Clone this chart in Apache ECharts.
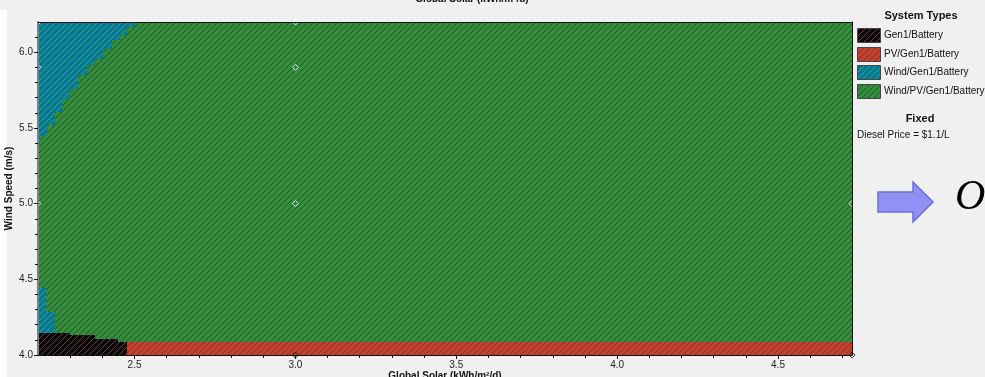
<!DOCTYPE html>
<html>
<head>
<meta charset="utf-8">
<script src="https://cdn.jsdelivr.net/npm/echarts@6/dist/echarts.min.js"></script>
<style>
html,body{margin:0;padding:0;background:#f0f0f0;}
#main{width:985px;height:377px;}
</style>
</head>
<body>
<div id="main"></div>
<script>
// axis ranges and ticks
var solarMin = 2.2, solarMax = 4.73;
var windMin = 4.0, windMax = 6.2;
var xTickValues = [2.5, 3.0, 3.5, 4.0, 4.5];
var xMinorValues = [2.3, 2.4, 2.6, 2.7, 2.8, 2.9, 3.1, 3.2, 3.3, 3.4, 3.6, 3.7, 3.8, 3.9, 4.1, 4.2, 4.3, 4.4, 4.6, 4.7];
var yTickValues = [4.0, 4.5, 5.0, 5.5, 6.0];
var yMinorValues = [4.1, 4.2, 4.3, 4.4, 4.6, 4.7, 4.8, 4.9, 5.1, 5.2, 5.3, 5.4, 5.6, 5.7, 5.8, 5.9, 6.1];

var typeNames = ["Gen1/Battery", "PV/Gen1/Battery", "Wind/Gen1/Battery", "Wind/PV/Gen1/Battery"];

// Wind/Gen1/Battery, upper left steps (lower wind of each step, solar reached)
var blueTopWindLow = [6.166, 6.113, 6.08, 6.02, 5.954, 5.914, 5.848, 5.755, 5.689, 5.603, 5.517, 5.45, 5.39];
var blueTopSolarMax = [2.50, 2.476, 2.455, 2.43, 2.402, 2.377, 2.352, 2.324, 2.299, 2.275, 2.253, 2.228, 2.206];
// Wind/Gen1/Battery, lower left steps
var blueLowWindLow = [4.285, 4.146];
var blueLowWindHigh = [4.44, 4.285];
var blueLowSolarMax = [2.225, 2.253];
// Gen1/Battery steps at the bottom
var blackSolarFrom = [2.2, 2.299, 2.377, 2.448];
var blackSolarTo = [2.299, 2.377, 2.448, 2.476];
var blackWindMax = [4.146, 4.132, 4.106, 4.086];
// PV/Gen1/Battery band
var redSolarFrom = 2.476;
var redWindMax = 4.086;

// sensitivity points
var pointSolar = [2.2, 2.2, 2.2, 3.0, 3.0, 3.0, 4.73, 3.0, 4.73];
var pointWind = [6.2, 5.9, 5.0, 6.2, 5.9, 5.0, 5.0, 4.0, 4.0];

function $each(arr, fn) {
    for (var i = 0; i < arr.length; i++) fn(i, arr[i]);
}

//斜线填充
function makePattern(bg, line) {
    var c = document.createElement("canvas");
    c.width = 6; c.height = 6;
    var ctx = c.getContext("2d");
    ctx.fillStyle = bg;
    ctx.fillRect(0, 0, 6, 6);
    ctx.strokeStyle = line;
    ctx.lineWidth = 1;
    ctx.beginPath();
    ctx.moveTo(0, 6); ctx.lineTo(6, 0);
    ctx.moveTo(-1, 1); ctx.lineTo(1, -1);
    ctx.moveTo(5, 7); ctx.lineTo(7, 5);
    ctx.stroke();
    return {image: c, repeat: "repeat"};
}
var patterns = [
    makePattern("#070707", "#6e3d3d"),
    makePattern("#c2412f", "#8e2d22"),
    makePattern("#04769f", "#35b04a"),
    makePattern("#348c3c", "#1c5a24")
];

// rectangles: [solarFrom, solarTo, windFrom, windTo, type]
var rects = [];
rects.push([solarMin, solarMax, windMin, windMax, 3]);
var rowTop = windMax;
$each(blueTopWindLow, function (i, w) {
    rects.push([solarMin, blueTopSolarMax[i], w, rowTop, 2]);
    rowTop = w;
});
$each(blueLowWindLow, function (i, w) {
    rects.push([solarMin, blueLowSolarMax[i], w, blueLowWindHigh[i], 2]);
});
$each(blackSolarFrom, function (i, s) {
    rects.push([s, blackSolarTo[i], windMin, blackWindMax[i], 0]);
});
rects.push([redSolarFrom, solarMax, windMin, redWindMax, 1]);

var points = [];
$each(pointSolar, function (i, s) {
    points.push({value: [s, pointWind[i]], itemStyle: {borderColor: pointWind[i] === windMin ? "#111" : "#fff"}});
});

var font = "Liberation Sans";
var myChart = echarts.init(document.getElementById("main"));

// legend graphics
var graphics = [
    {type: "rect", shape: {x: 0, y: 10, width: 7, height: 367}, style: {fill: "#fff"}, z: -1},
    {type: "text", x: 472, y: -1, style: {text: "Global Solar (kWh/m²/d)", font: "bold 10px " + font, fill: "#111", align: "center", verticalAlign: "middle"}},
    {type: "text", x: 921, y: 16, style: {text: "System Types", font: "bold 11px " + font, fill: "#111", align: "center", verticalAlign: "middle"}},
    {type: "text", x: 920, y: 119, style: {text: "Fixed", font: "bold 11px " + font, fill: "#111", align: "center", verticalAlign: "middle"}},
    {type: "text", x: 857, y: 135, style: {text: "Diesel Price = $1.1/L", font: "10px " + font, fill: "#111", align: "left", verticalAlign: "middle"}},
    {type: "polygon", shape: {points: [[878, 192], [913, 192], [913, 182], [933, 202], [913, 222], [913, 212], [878, 212]]},
        style: {fill: "#9191f3", stroke: "#6d6dd9", lineWidth: 1.5}},
    {type: "text", x: 955, y: 219, style: {text: "O", font: "italic 42px Liberation Serif", fill: "#000", align: "left", verticalAlign: "bottom"}}
];
$each(typeNames, function (i, name) {
    var y = 28 + i * 18.7;
    graphics.push({type: "rect", shape: {x: 857.5, y: Math.round(y) + 0.5, width: 23, height: 14},
        style: {fill: patterns[i], stroke: "#444", lineWidth: 1}});
    graphics.push({type: "text", x: 884, y: Math.round(y) + 7.5, style: {text: name, font: "10px " + font, fill: "#111", align: "left", verticalAlign: "middle"}});
});

var option = {
    backgroundColor: "#f0f0f0",
    animation: false,
    grid: {left: 38, top: 22, right: 133, bottom: 22, show: false, containLabel: false, outerBoundsMode: "none"},
    xAxis: [
        {
            type: "value", min: solarMin, max: solarMax, position: "bottom", z: 10,
            name: "Global Solar (kWh/m²/d)", nameLocation: "middle", nameGap: 16, nameMoveOverlap: false,
            nameTextStyle: {fontFamily: font, fontWeight: "bold", fontSize: 10, color: "#111", verticalAlign: "top"},
            axisLine: {lineStyle: {color: "#111", width: 1}},
            axisTick: {customValues: xTickValues, length: 4, lineStyle: {color: "#111"}},
            axisLabel: {customValues: xTickValues, formatter: function (v) { return v.toFixed(1); }, fontFamily: font, fontSize: 10, color: "#222", margin: 5},
            splitLine: {show: false}
        },
        {
            type: "value", min: solarMin, max: solarMax, position: "bottom", z: 10,
            axisLine: {show: false},
            axisTick: {customValues: xMinorValues, length: 3, lineStyle: {color: "#111"}},
            axisLabel: {show: false}, splitLine: {show: false}
        },
        {
            type: "value", min: solarMin, max: solarMax, position: "top", z: 10,
            axisLine: {lineStyle: {color: "#111", width: 1}},
            axisTick: {show: false}, axisLabel: {show: false}, splitLine: {show: false}
        }
    ],
    yAxis: [
        {
            type: "value", min: windMin, max: windMax, position: "left", z: 10,
            name: "Wind Speed (m/s)", nameLocation: "middle", nameGap: 24, nameRotate: 90, nameMoveOverlap: false,
            nameTextStyle: {fontFamily: font, fontWeight: "bold", fontSize: 10, color: "#111"},
            axisLine: {lineStyle: {color: "#808080", width: 2}},
            axisTick: {customValues: yTickValues, length: 4, lineStyle: {color: "#111"}},
            axisLabel: {customValues: yTickValues, formatter: function (v) { return v.toFixed(1); }, fontFamily: font, fontSize: 10, color: "#222", margin: 5},
            splitLine: {show: false}
        },
        {
            type: "value", min: windMin, max: windMax, position: "left", z: 10,
            axisLine: {show: false},
            axisTick: {customValues: yMinorValues, length: 3, lineStyle: {color: "#111"}},
            axisLabel: {show: false}, splitLine: {show: false}
        },
        {
            type: "value", min: windMin, max: windMax, position: "right", z: 10,
            axisLine: {lineStyle: {color: "#111", width: 1}},
            axisTick: {show: false}, axisLabel: {show: false}, splitLine: {show: false}
        }
    ],
    series: [
        {
            type: "custom",
            xAxisIndex: 0, yAxisIndex: 0,
            encode: {x: [0, 1], y: [2, 3]},
            data: rects,
            renderItem: function (params, api) {
                var p0 = api.coord([api.value(0), api.value(3)]);
                var p1 = api.coord([api.value(1), api.value(2)]);
                var x0 = Math.round(p0[0]), y0 = Math.round(p0[1]);
                var x1 = Math.round(p1[0]), y1 = Math.round(p1[1]);
                return {
                    type: "rect",
                    shape: {x: x0, y: y0, width: x1 - x0, height: y1 - y0},
                    style: {fill: patterns[api.value(4)]}
                };
            }
        },
        {
            type: "scatter",
            xAxisIndex: 0, yAxisIndex: 0,
            symbol: "diamond", symbolSize: 6,
            itemStyle: {color: "rgba(0,0,0,0)", borderWidth: 1},
            data: points,
            z: 5
        }
    ],
    graphic: graphics
};

myChart.setOption(option);
</script>
</body>
</html>
